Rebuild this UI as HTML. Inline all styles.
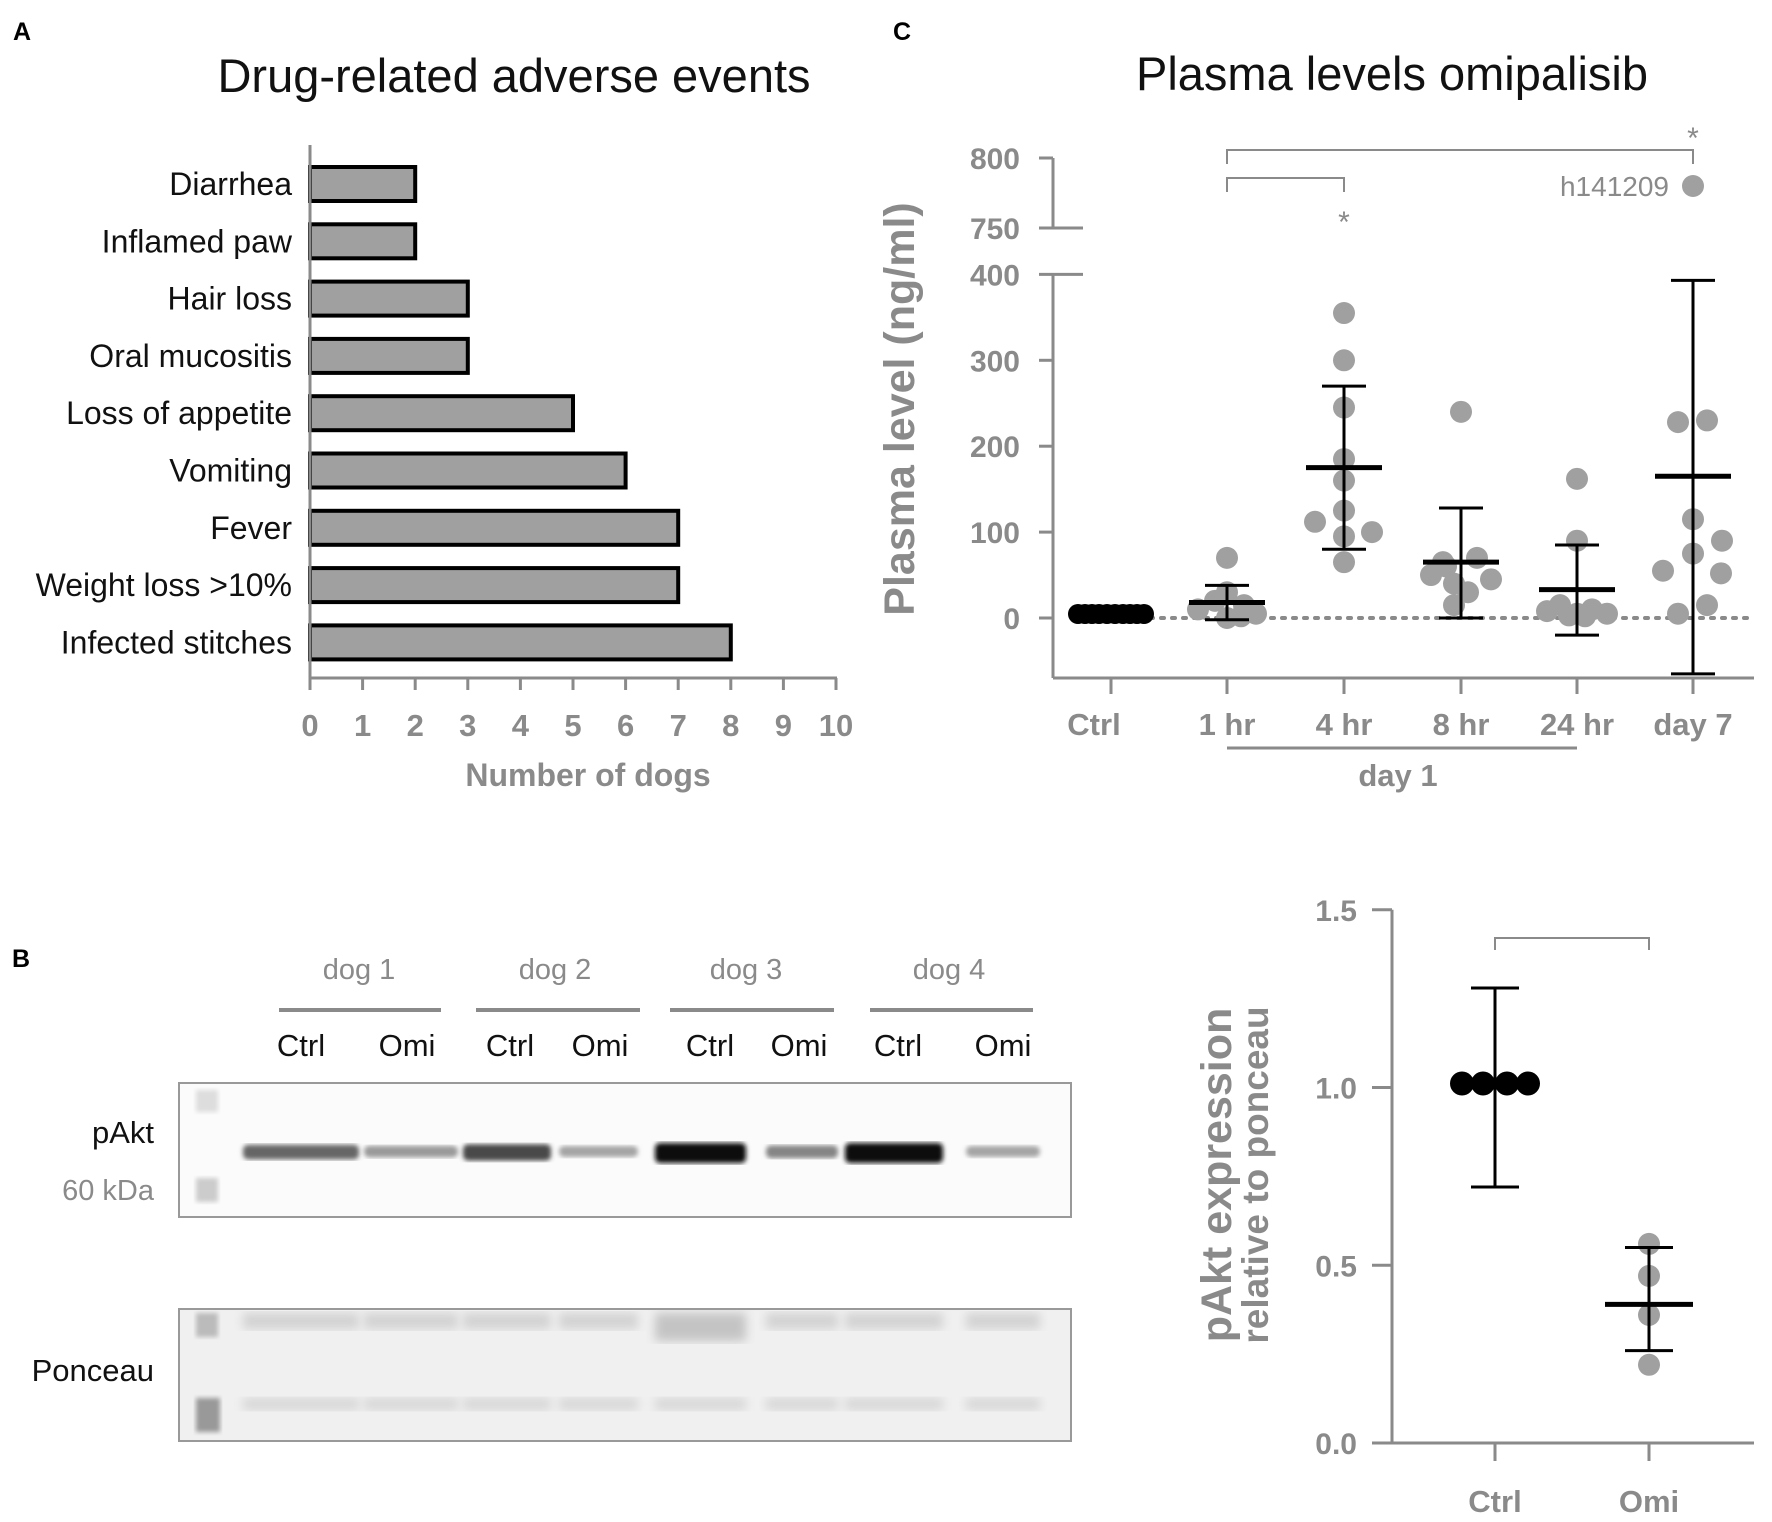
<!DOCTYPE html>
<html><head><meta charset="utf-8"><style>
html,body{margin:0;padding:0;background:#fff;}
svg{display:block;font-family:"Liberation Sans",Arial,sans-serif;}
</style></head><body>
<svg id="fig" width="1772" height="1522" viewBox="0 0 1772 1522" xmlns="http://www.w3.org/2000/svg">
<defs>
<filter id="blur2"><feGaussianBlur stdDeviation="2.5"/></filter>
<filter id="blur4"><feGaussianBlur stdDeviation="5"/></filter>
</defs>
<g id="panelA"></g>
<g id="panelC"></g>
<g id="panelB"></g>
<g id="panelD"></g>
</svg>
<script>
// ---- Panel A data ----
const aeCategories = ["Diarrhea","Inflamed paw","Hair loss","Oral mucositis","Loss of appetite","Vomiting","Fever","Weight loss >10%","Infected stitches"];
const aeValues = [2,2,3,3,5,6,7,7,8];
const aeTicks = [0,1,2,3,4,5,6,7,8,9,10];

// ---- Panel C data ----
const plCategories = ["Ctrl","1 hr","4 hr","8 hr","24 hr","day 7"];
const plCtrl = [0,0,0,0,0,0,0,0,0,0];
const pl1hr = [70,30,20,15,10,5,0,2];
const pl4hr = [355,300,245,185,160,125,112,100,95,65];
const pl8hr = [240,70,65,60,50,45,40,30,15];
const pl24hr = [162,90,15,10,8,5,5,3,2];
const plDay7 = [228,230,115,90,75,55,52,15,5];
const plMeans = [3,18,175,65,33,165];
const plErrHigh = [3,38,270,128,85,393];
const plErrLow = [3,-2,80,0,-20,-65];
const plOutlier = 780;
const plTicksLow = [0,100,200,300,400];
const plTicksHigh = [750,800];

// ---- Panel D data ----
const pkCategories = ["Ctrl","Omi"];
const pkCtrl = [1.0,1.0,1.0,1.0];
const pkOmi = [0.56,0.47,0.36,0.22];
const pkMeans = [1.0,0.39];
const pkErrHigh = [1.28,0.55];
const pkErrLow = [0.72,0.26];
const pkTicks = [0.0,0.5,1.0,1.5];

// ---- Panel B data ----
const blotDogs = ["dog 1","dog 2","dog 3","dog 4"];
const blotLanes = ["Ctrl","Omi","Ctrl","Omi","Ctrl","Omi","Ctrl","Omi"];
const blotIntensity = [0.55,0.3,0.7,0.25,1.0,0.4,1.0,0.25];

const NS="http://www.w3.org/2000/svg";
function el(parent,tag,attrs,text){const e=document.createElementNS(NS,tag);for(const k in attrs)e.setAttribute(k,attrs[k]);if(text!==undefined)e.textContent=text;parent.appendChild(e);return e;}
const GRAY="#8a8a8a";

// ===== Panel A =====
(function(){
const g=document.getElementById('panelA');
const x0=310,xu=52.6,y0=184,dy=57.3,bh=34,axY=678;
const X=v=>x0+v*xu, Y=i=>y0+i*dy;
let t=el(g,'text',{x:13,y:40,'font-size':25,'font-weight':'bold',fill:'#000'},'A');

t=el(g,'text',{x:514,y:92,'font-size':47,'text-anchor':'middle',fill:'#111'},'Drug-related adverse events');

aeCategories.forEach((c,i)=>{
 const r=el(g,'rect',{x:X(0),y:Y(i)-bh/2,width:X(aeValues[i])-X(0),height:bh,fill:'#a0a0a0',stroke:'#000','stroke-width':4});
 
 
 const l=el(g,'text',{x:292,y:Y(i)+11,'font-size':32,'text-anchor':'end',fill:'#111'},c);
 
 
});
let a=el(g,'line',{x1:X(0),y1:145,x2:X(0),y2:axY,stroke:GRAY,'stroke-width':3});

a=el(g,'line',{x1:X(0)-1,y1:axY,x2:X(10)+1,y2:axY,stroke:GRAY,'stroke-width':3});

aeTicks.forEach(v=>{
 el(g,'line',{x1:X(v),y1:axY,x2:X(v),y2:axY+12,stroke:GRAY,'stroke-width':3});
 const tl=el(g,'text',{x:X(v),y:736,'font-size':31,'font-weight':'bold','text-anchor':'middle',fill:GRAY},String(v));
 
 
});
t=el(g,'text',{x:588,y:786,'font-size':32,'font-weight':'bold','text-anchor':'middle',fill:GRAY},'Number of dogs');

})();

// ===== Panel C =====
(function(){
const g=document.getElementById('panelC');
const ax=1053,axY=678,xEnd=1754;
const Y=v=>618-v*0.859; // low segment
const YH=v=>228-(v-750)*1.4; // high segment
const cx=[1111,1227,1344,1461,1577,1693];
let t=el(g,'text',{x:893,y:40,'font-size':25,'font-weight':'bold',fill:'#000'},'C');

t=el(g,'text',{x:1392,y:90,'font-size':47,'text-anchor':'middle',fill:'#111'},'Plasma levels omipalisib');

t=el(g,'text',{x:0,y:0,'font-size':43,'font-weight':'bold','text-anchor':'middle',fill:GRAY,transform:'translate(914,409) rotate(-90)'},'Plasma level (ng/ml)');

let a=el(g,'line',{x1:ax,y1:Y(400),x2:ax,y2:axY,stroke:GRAY,'stroke-width':3});

a=el(g,'line',{x1:ax,y1:YH(800),x2:ax,y2:YH(750),stroke:GRAY,'stroke-width':3});

a=el(g,'line',{x1:ax,y1:axY,x2:xEnd,y2:axY,stroke:GRAY,'stroke-width':3});

plTicksLow.forEach(v=>{
 el(g,'line',{x1:ax-14,y1:Y(v),x2:v===400?ax+30:ax,y2:Y(v),stroke:GRAY,'stroke-width':3});
 const tl=el(g,'text',{x:1020,y:Y(v)+11,'font-size':30,'font-weight':'bold','text-anchor':'end',fill:GRAY},String(v));
 
 
});
plTicksHigh.forEach(v=>{
 el(g,'line',{x1:ax-14,y1:YH(v),x2:v===750?ax+30:ax,y2:YH(v),stroke:GRAY,'stroke-width':3});
 const tl=el(g,'text',{x:1020,y:YH(v)+11,'font-size':30,'font-weight':'bold','text-anchor':'end',fill:GRAY},String(v));
 
 
});
a=el(g,'line',{x1:ax+20,y1:Y(0),x2:xEnd,y2:Y(0),stroke:GRAY,'stroke-width':4,'stroke-dasharray':'3 8','stroke-linecap':'round'});

plCategories.forEach((c,i)=>{
 el(g,'line',{x1:cx[i],y1:axY,x2:cx[i],y2:axY+16,stroke:GRAY,'stroke-width':3});
 const tl=el(g,'text',{x:i===0?cx[i]-17:cx[i],y:735,'font-size':31,'font-weight':'bold','text-anchor':'middle',fill:GRAY},c);
 
 
});
a=el(g,'line',{x1:cx[1],y1:748,x2:cx[4],y2:748,stroke:GRAY,'stroke-width':3});

t=el(g,'text',{x:1398,y:786,'font-size':31,'font-weight':'bold','text-anchor':'middle',fill:GRAY},'day 1');

const groups=[plCtrl,pl1hr,pl4hr,pl8hr,pl24hr,plDay7];
const jit=[[-33,-26,-19,-12,-4,4,12,19,26,33],[0,0,-12,17,-29,29,0,14],[0,0,0,0,0,0,-29,28,0,0],[0,16,-18,-15,-30,30,-7,7,-7],[0,0,-17,15,-30,30,0,-8,8],[-15,14,0,29,0,-30,28,14,-15]];
groups.forEach((arr,gi)=>{
 arr.forEach((v,j)=>{
  const d=el(g,'circle',{cx:cx[gi]+(jit[gi][j]||0),cy:Y(v)-(gi===0?4:0),r:gi===0?10:11,fill:gi===0?'#000':'#a0a0a0'});
  
  
 });
});
const od=el(g,'circle',{cx:cx[5],cy:YH(plOutlier),r:11,fill:'#a0a0a0'});


t=el(g,'text',{x:cx[5]-24,y:YH(plOutlier)+10,'font-size':28,'text-anchor':'end',fill:GRAY},'h141209');

plMeans.forEach((m,i)=>{
 if(i===0)return;
 const gE=el(g,'g',{});
 
 
 el(gE,'line',{x1:cx[i],y1:Y(plErrHigh[i]),x2:cx[i],y2:Y(plErrLow[i]),stroke:'#000','stroke-width':3});
 el(gE,'line',{x1:cx[i]-22,y1:Y(plErrHigh[i]),x2:cx[i]+22,y2:Y(plErrHigh[i]),stroke:'#000','stroke-width':3});
 el(gE,'line',{x1:cx[i]-22,y1:Y(plErrLow[i]),x2:cx[i]+22,y2:Y(plErrLow[i]),stroke:'#000','stroke-width':3});
 const ml=el(g,'line',{x1:cx[i]-38,y1:Y(m),x2:cx[i]+38,y2:Y(m),stroke:'#000','stroke-width':5});
 
 
});
let b=el(g,'path',{d:`M${cx[1]},164 V150 H${cx[5]} V164`,fill:'none',stroke:GRAY,'stroke-width':2});

t=el(g,'text',{x:cx[5],y:148,'font-size':30,'text-anchor':'middle',fill:GRAY},'*');

b=el(g,'path',{d:`M${cx[1]},192 V178 H${cx[2]} V192`,fill:'none',stroke:GRAY,'stroke-width':2});

t=el(g,'text',{x:cx[2],y:232,'font-size':30,'text-anchor':'middle',fill:GRAY},'*');

})();

// ===== Panel B (western blot) =====
(function(){
const g=document.getElementById('panelB');
let t=el(g,'text',{x:12,y:967,'font-size':25,'font-weight':'bold',fill:'#000'},'B');

const dogX=[359,555,746,949], lineX=[[279,441],[476,640],[670,834],[870,1033]];
blotDogs.forEach((d,i)=>{
 const l=el(g,'text',{x:dogX[i],y:979,'font-size':29,'text-anchor':'middle',fill:GRAY},d);
 
 
 el(g,'line',{x1:lineX[i][0],y1:1010,x2:lineX[i][1],y2:1010,stroke:GRAY,'stroke-width':4});
});
const laneX=[301,407,510,600,710,799,898,1003];
blotLanes.forEach((c,i)=>{
 const l=el(g,'text',{x:laneX[i],y:1056,'font-size':31,'text-anchor':'middle',fill:'#111'},c);
 
 
});
t=el(g,'text',{x:154,y:1143,'font-size':31,'text-anchor':'end',fill:'#111'},'pAkt');

t=el(g,'text',{x:154,y:1200,'font-size':29,'text-anchor':'end',fill:GRAY},'60 kDa');

t=el(g,'text',{x:154,y:1381,'font-size':31,'text-anchor':'end',fill:'#111'},'Ponceau');

let bx=el(g,'rect',{x:179,y:1083,width:892,height:134,fill:'#fbfbfb',stroke:'#999','stroke-width':2});

bx=el(g,'rect',{x:179,y:1309,width:892,height:132,fill:'#f0f0f0',stroke:'#999','stroke-width':2});

el(g,'rect',{x:196,y:1090,width:22,height:22,fill:'#ddd',filter:'url(#blur2)'});
el(g,'rect',{x:196,y:1178,width:22,height:24,fill:'#ccc',filter:'url(#blur2)'});
el(g,'rect',{x:196,y:1313,width:22,height:24,fill:'#bbb',filter:'url(#blur2)'});
el(g,'rect',{x:196,y:1398,width:24,height:34,fill:'#999',filter:'url(#blur2)'});
const bandX=[[243,359],[364,458],[463,551],[559,638],[655,746],[766,838],[845,943],[966,1040]];
blotIntensity.forEach((v,i)=>{
 const c=Math.round(215-205*v);
 const bd=el(g,'rect',{x:bandX[i][0],y:1147-v*4,width:bandX[i][1]-bandX[i][0],height:8+v*12,rx:5,fill:`rgb(${c},${c},${c})`,filter:'url(#blur2)'});
 
 
 const pc=el(g,'rect',{x:bandX[i][0],y:1313,width:bandX[i][1]-bandX[i][0],height:(i===4)?28:16,fill:(i===4)?'#c4c4c4':'#d2d2d2',filter:'url(#blur4)'});
 
 
 el(g,'rect',{x:bandX[i][0],y:1398,width:bandX[i][1]-bandX[i][0],height:12,fill:'#d6d6d6',filter:'url(#blur4)'});
});
})();

// ===== Panel D =====
(function(){
const g=document.getElementById('panelD');
const ax=1392,axY=1443;
const Y=v=>axY-v*355.5;
const cx=[1495,1649];
let t=el(g,'text',{x:0,y:0,'font-size':43,'font-weight':'bold','text-anchor':'middle',fill:GRAY,transform:'translate(1231,1175) rotate(-90)'},'pAkt expression');

t=el(g,'text',{x:0,y:0,'font-size':37,'font-weight':'bold','text-anchor':'middle',fill:GRAY,transform:'translate(1268,1175) rotate(-90)'},'relative to ponceau');

let a=el(g,'line',{x1:ax,y1:Y(1.5),x2:ax,y2:axY,stroke:GRAY,'stroke-width':3});

a=el(g,'line',{x1:ax-20,y1:axY,x2:1754,y2:axY,stroke:GRAY,'stroke-width':3});

pkTicks.forEach(v=>{
 el(g,'line',{x1:ax-20,y1:Y(v),x2:ax,y2:Y(v),stroke:GRAY,'stroke-width':3});
 const tl=el(g,'text',{x:1357,y:Y(v)+11,'font-size':30,'font-weight':'bold','text-anchor':'end',fill:GRAY},v.toFixed(1));
 
 
});
pkCategories.forEach((c,i)=>{
 el(g,'line',{x1:cx[i],y1:axY,x2:cx[i],y2:axY+18,stroke:GRAY,'stroke-width':3});
 const tl=el(g,'text',{x:cx[i],y:1512,'font-size':31,'font-weight':'bold','text-anchor':'middle',fill:GRAY},c);
 
 
});
let b=el(g,'path',{d:`M${cx[0]},950 V938 H${cx[1]} V950`,fill:'none',stroke:GRAY,'stroke-width':2});

const ctrlJ=[-33,-12,12,33];
pkCtrl.forEach((v,j)=>{
 const d=el(g,'circle',{cx:cx[0]+ctrlJ[j],cy:Y(v)-4,r:12,fill:'#000'});
 
 
});
pkOmi.forEach((v,j)=>{
 const d=el(g,'circle',{cx:cx[1],cy:Y(v),r:11,fill:'#a0a0a0'});
 
 
});
pkMeans.forEach((m,i)=>{
 const gE=el(g,'g',{});
 
 
 el(gE,'line',{x1:cx[i],y1:Y(pkErrHigh[i]),x2:cx[i],y2:Y(pkErrLow[i]),stroke:'#000','stroke-width':3});
 el(gE,'line',{x1:cx[i]-24,y1:Y(pkErrHigh[i]),x2:cx[i]+24,y2:Y(pkErrHigh[i]),stroke:'#000','stroke-width':3});
 el(gE,'line',{x1:cx[i]-24,y1:Y(pkErrLow[i]),x2:cx[i]+24,y2:Y(pkErrLow[i]),stroke:'#000','stroke-width':3});
 if(i===1){
  const ml=el(g,'line',{x1:cx[i]-44,y1:Y(m),x2:cx[i]+44,y2:Y(m),stroke:'#000','stroke-width':5});
  
  
 }
});
})();
</script>
</body></html>
